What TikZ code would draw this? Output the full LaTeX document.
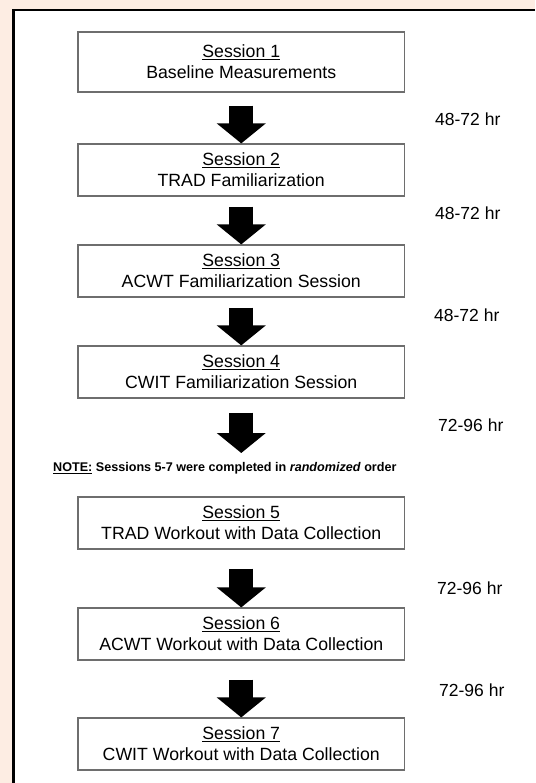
\documentclass[tikz,border=0pt]{standalone}
\usepackage{fontspec}
\setmainfont{Liberation Sans}
\usetikzlibrary{arrows.meta,calc}
\definecolor{peach}{RGB}{253,237,227}
\definecolor{boxline}{RGB}{110,110,110}
\begin{document}
\begin{tikzpicture}[x=1pt,y=-1pt,
  sessionbox/.style={draw=boxline,line width=1.2pt,fill=white,minimum width=326.5pt,
    minimum height=52pt,align=center,inner sep=0pt,
    font=\fontsize{17.7}{21}\selectfont},
  gaplabel/.style={anchor=west,inner sep=0pt,font=\fontsize{17.5}{20}\selectfont},
  bigarrow/.style={line width=24pt,-{Triangle[width=48pt,length=20pt]}}]
  % page background and framed panel
  \useasboundingbox (0,0) rectangle (535,783);
  \fill[peach] (0,0) rectangle (535,783);
  \fill[white] (13.3,10) rectangle (535,783);
  \draw[line width=2.5pt] (13.3,783) -- (13.3,10) -- (535,10);

  % sessions
  \node[sessionbox,minimum height=60pt] (b1) at (241.25,62) {\underline{Session 1}\\Baseline Measurements};
  \node[sessionbox] (b2) at (241.25,170) {\underline{Session 2}\\TRAD Familiarization};
  \node[sessionbox] (b3) at (241.25,271) {\underline{Session 3}\\ACWT Familiarization Session};
  \node[sessionbox] (b4) at (241.25,372) {\underline{Session 4}\\CWIT Familiarization Session};
  \node[sessionbox] (b5) at (241.25,523) {\underline{Session 5}\\TRAD Workout with Data Collection};
  \node[sessionbox] (b6) at (241.25,634) {\underline{Session 6}\\ACWT Workout with Data Collection};
  \node[sessionbox] (b7) at (241.25,744) {\underline{Session 7}\\CWIT Workout with Data Collection};

  % note on randomization
  \node[anchor=west,inner sep=0pt,font=\fontsize{12.6}{15}\selectfont\bfseries] (note) at (53,468)
    {\underline{NOTE:} Sessions 5-7 were completed in \textit{randomized} order};
  \coordinate (n4) at (241.25,453);

  % transitions between sessions
  \draw[bigarrow] ($(b1.south)+(0,13)$) -- (b2.north);
  \draw[bigarrow] ($(b2.south)+(0,10)$) -- (b3.north);
  \draw[bigarrow] ($(b3.south)+(0,10)$) -- (b4.north);
  \draw[bigarrow] ($(b4.south)+(0,14)$) -- (n4);
  \draw[bigarrow] ($(b5.south)+(0,19)$) -- (b6.north);
  \draw[bigarrow] ($(b6.south)+(0,19)$) -- (b7.north);

  % rest intervals
  \node[gaplabel] (t1) at (435,119) {48-72 hr};
  \node[gaplabel] (t2) at (435,213) {48-72 hr};
  \node[gaplabel] (t3) at (434,315) {48-72 hr};
  \node[gaplabel] (t4) at (438,425) {72-96 hr};
  \node[gaplabel] (t5) at (437,588) {72-96 hr};
  \node[gaplabel] (t6) at (439,690) {72-96 hr};
\end{tikzpicture}
\end{document}
